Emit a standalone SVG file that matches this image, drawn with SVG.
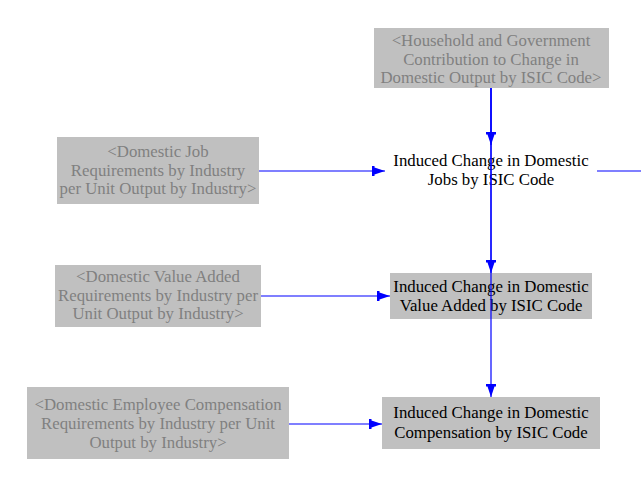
<svg xmlns="http://www.w3.org/2000/svg" width="641" height="482" viewBox="0 0 641 482">
<style>
.box{fill:#c0c0c0;}
text{font-family:"Liberation Serif","Times New Roman",serif;font-size:16.8px;text-anchor:middle;}
.g{fill:#808080;}
.k{fill:#000000;}
.c{stroke:#0000ff;stroke-width:1.2;fill:none;}
</style>
<defs>
<marker id="ah" viewBox="0 0 13 10" refX="13" refY="5" markerWidth="13" markerHeight="10" markerUnits="userSpaceOnUse" orient="auto">
<path d="M0,0 L2.5,0 L2.5,1.5 L13,5 L2.5,8.5 L2.5,10 L0,10 Z" fill="#0000ff"/>
</marker>
</defs>
<g id="household">
<rect class="box" x="374" y="28" width="235" height="60"/>
<text class="g" x="491" y="46">&lt;Household and Government</text>
<text class="g" x="491" y="65">Contribution to Change in</text>
<text class="g" x="491" y="83">Domestic Output by ISIC Code&gt;</text>
</g>
<g id="jobreq">
<rect class="box" x="57" y="137" width="202" height="67"/>
<text class="g" x="158" y="157">&lt;Domestic Job</text>
<text class="g" x="158" y="176">Requirements by Industry</text>
<text class="g" x="158" y="194">per Unit Output by Industry&gt;</text>
</g>
<g id="jobs">
<text class="k" x="491" y="166">Induced Change in Domestic</text>
<text class="k" x="491" y="185">Jobs by ISIC Code</text>
</g>
<g id="vareq">
<rect class="box" x="55" y="265" width="206" height="62"/>
<text class="g" x="158" y="282">&lt;Domestic Value Added</text>
<text class="g" x="158" y="301">Requirements by Industry per</text>
<text class="g" x="158" y="319">Unit Output by Industry&gt;</text>
</g>
<g id="va">
<rect class="box" x="390" y="273" width="202" height="46"/>
<text class="k" x="491" y="292">Induced Change in Domestic</text>
<text class="k" x="491" y="311">Value Added by ISIC Code</text>
</g>
<g id="compreq">
<rect class="box" x="27" y="387" width="262" height="72"/>
<text class="g" x="158" y="410">&lt;Domestic Employee Compensation</text>
<text class="g" x="158" y="429">Requirements by Industry per Unit</text>
<text class="g" x="158" y="448">Output by Industry&gt;</text>
</g>
<g id="comp">
<rect class="box" x="382" y="397" width="218" height="52"/>
<text class="k" x="491" y="418">Induced Change in Domestic</text>
<text class="k" x="491" y="438">Compensation by ISIC Code</text>
</g>
<g id="connectors">
<line class="c" x1="491" y1="88" x2="491" y2="145" marker-end="url(#ah)"/>
<line class="c" x1="491" y1="88" x2="491" y2="273" marker-end="url(#ah)"/>
<line class="c" x1="491" y1="88" x2="491" y2="397" marker-end="url(#ah)"/>
<line class="c" x1="259" y1="171" x2="385" y2="171" marker-end="url(#ah)"/>
<line class="c" x1="261" y1="296" x2="390" y2="296" marker-end="url(#ah)"/>
<line class="c" x1="289" y1="424" x2="382" y2="424" marker-end="url(#ah)"/>
<line class="c" x1="597" y1="171" x2="641" y2="171"/>
</g>
</svg>
